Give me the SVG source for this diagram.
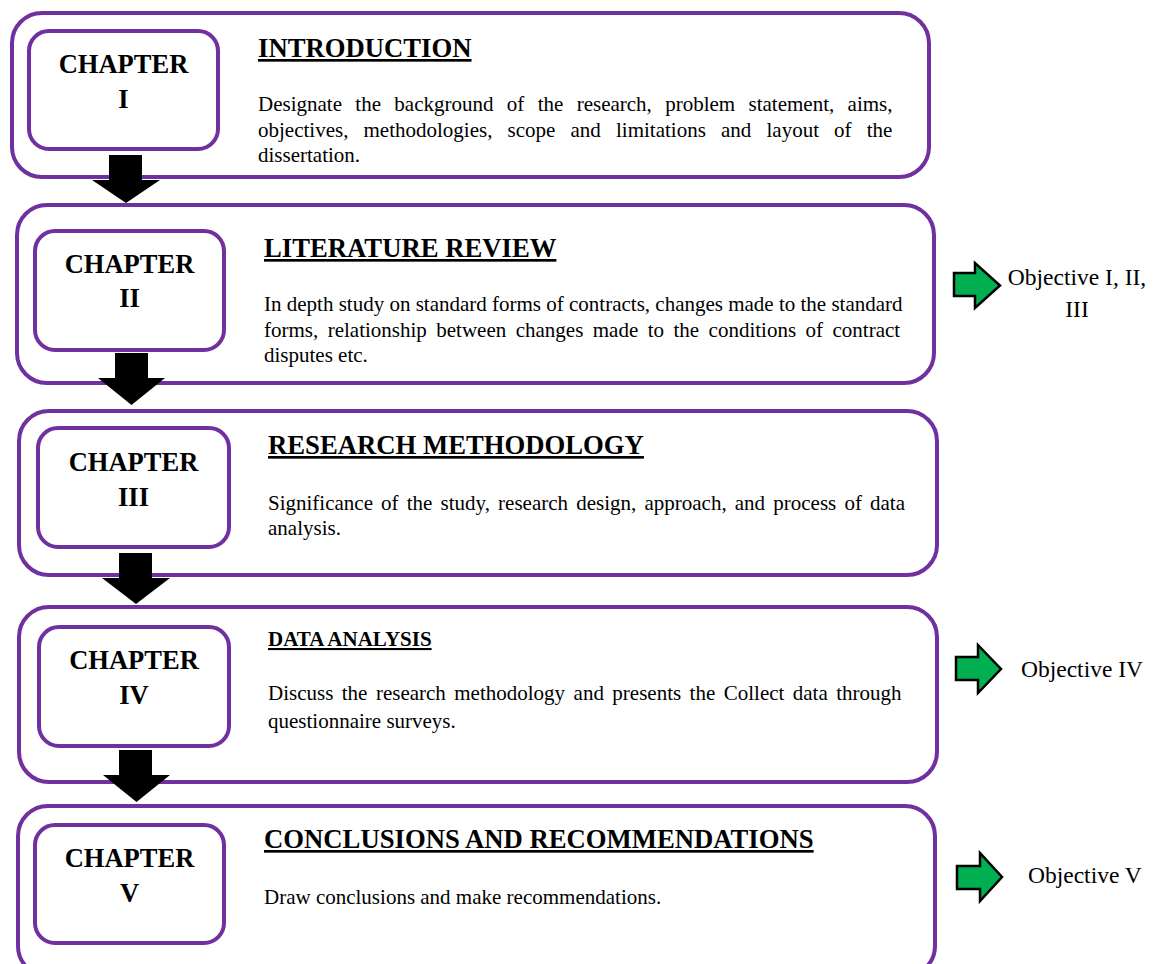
<svg xmlns="http://www.w3.org/2000/svg" width="1163" height="964" viewBox="0 0 1163 964">
  <style>
    .frame { fill: #ffffff; stroke: #7030A0; stroke-width: 4; }
    .tag { fill: #ffffff; stroke: #7030A0; stroke-width: 4; }
    .chap { font-family: "Liberation Serif", "Times New Roman", serif; font-weight: bold; font-size: 26.5px; fill: #000; text-anchor: middle; }
    .title { font-family: "Liberation Serif", "Times New Roman", serif; font-weight: bold; font-size: 26.7px; fill: #000; text-decoration: underline; }
    .title-sm { font-family: "Liberation Serif", "Times New Roman", serif; font-weight: bold; font-size: 21px; fill: #000; text-decoration: underline; }
    .body { font-family: "Liberation Serif", "Times New Roman", serif; font-size: 21px; fill: #000; }
    .obj { font-family: "Liberation Serif", "Times New Roman", serif; font-size: 23.5px; fill: #000; }
    .down { fill: #000000; }
    .right { fill: #00B050; stroke: #000; stroke-width: 2.5; stroke-linejoin: miter; }
  </style>

  <!-- Chapter I -->
  <g id="chapter-1">
    <rect class="frame" x="12" y="13" width="917" height="164" rx="30"/>
    <rect class="tag" x="29" y="31" width="189" height="118" rx="20"/>
    <text class="chap" x="123.5" y="73">CHAPTER</text>
    <text class="chap" x="123.5" y="108">I</text>
    <text class="title" x="258" y="57">INTRODUCTION</text>
    <text class="body" x="258" y="111" word-spacing="8.1">Designate the background of the research, problem statement, aims,</text>
    <text class="body" x="258" y="137" word-spacing="9.9">objectives, methodologies, scope and limitations and layout of the</text>
    <text class="body" x="258" y="162">dissertation.</text>
  </g>

  <!-- Chapter II -->
  <g id="chapter-2">
    <rect class="frame" x="17" y="205" width="917" height="178" rx="30"/>
    <rect class="tag" x="35" y="231" width="189" height="119" rx="20"/>
    <text class="chap" x="129.5" y="273">CHAPTER</text>
    <text class="chap" x="129.5" y="307">II</text>
    <text class="title" x="264" y="257">LITERATURE REVIEW</text>
    <text class="body" x="264" y="311">In depth study on standard forms of contracts, changes made to the standard</text>
    <text class="body" x="264" y="337" word-spacing="4.2">forms, relationship between changes made to the conditions of contract</text>
    <text class="body" x="264" y="362">disputes etc.</text>
  </g>

  <!-- Chapter III -->
  <g id="chapter-3">
    <rect class="frame" x="19" y="411" width="918" height="164" rx="30"/>
    <rect class="tag" x="38" y="428" width="191" height="119" rx="20"/>
    <text class="chap" x="133.5" y="471">CHAPTER</text>
    <text class="chap" x="133.5" y="506">III</text>
    <text class="title" x="268" y="454">RESEARCH METHODOLOGY</text>
    <text class="body" x="268" y="510" word-spacing="2.9">Significance of the study, research design, approach, and process of data</text>
    <text class="body" x="268" y="535">analysis.</text>
  </g>

  <!-- Chapter IV -->
  <g id="chapter-4">
    <rect class="frame" x="19" y="607" width="918" height="175" rx="30"/>
    <rect class="tag" x="39" y="627" width="190" height="119" rx="20"/>
    <text class="chap" x="134" y="669">CHAPTER</text>
    <text class="chap" x="134" y="704">IV</text>
    <text class="title-sm" x="268" y="646">DATA ANALYSIS</text>
    <text class="body" x="268" y="700" word-spacing="3.2">Discuss the research methodology and presents the Collect data through</text>
    <text class="body" x="268" y="728">questionnaire surveys.</text>
  </g>

  <!-- Chapter V -->
  <g id="chapter-5">
    <rect class="frame" x="18" y="806" width="917" height="170" rx="30"/>
    <rect class="tag" x="35" y="825" width="189" height="118" rx="20"/>
    <text class="chap" x="129.5" y="867">CHAPTER</text>
    <text class="chap" x="129.5" y="902">V</text>
    <text class="title" x="264" y="848">CONCLUSIONS AND RECOMMENDATIONS</text>
    <text class="body" x="264" y="904">Draw conclusions and make recommendations.</text>
  </g>

  <!-- Objective labels -->
  <g id="objective-1-3">
    <text class="obj" x="1077" y="285" text-anchor="middle">Objective I, II,</text>
    <text class="obj" x="1077" y="317" text-anchor="middle">III</text>
  </g>
  <g id="objective-4">
    <text class="obj" x="1021" y="677">Objective IV</text>
  </g>
  <g id="objective-5">
    <text class="obj" x="1028" y="883">Objective V</text>
  </g>

  <!-- Connectors: block arrows between chapters and to objectives -->
  <g id="connectors">
    <polygon class="down" points="109,155 142,155 142,180 160,180 126,203 92,180 109,180"/>
    <polygon class="down" points="115,353 148,353 148,378 165,378 131.5,405 98,378 115,378"/>
    <polygon class="down" points="119,553 152,553 152,578 170,578 136,604 102,578 119,578"/>
    <polygon class="down" points="119,750 152,750 152,775 170,775 136.5,802 103,775 119,775"/>

    <polygon class="right" points="954,273 975,273 975,263 1000,285.5 975,308 975,296 954,296"/>
    <polygon class="right" points="956,657 978,657 978,645 1001,669 978,693 978,680 956,680"/>
    <polygon class="right" points="957,866 980,866 980,853 1002,877 980,901 980,889 957,889"/>
  </g>
</svg>
